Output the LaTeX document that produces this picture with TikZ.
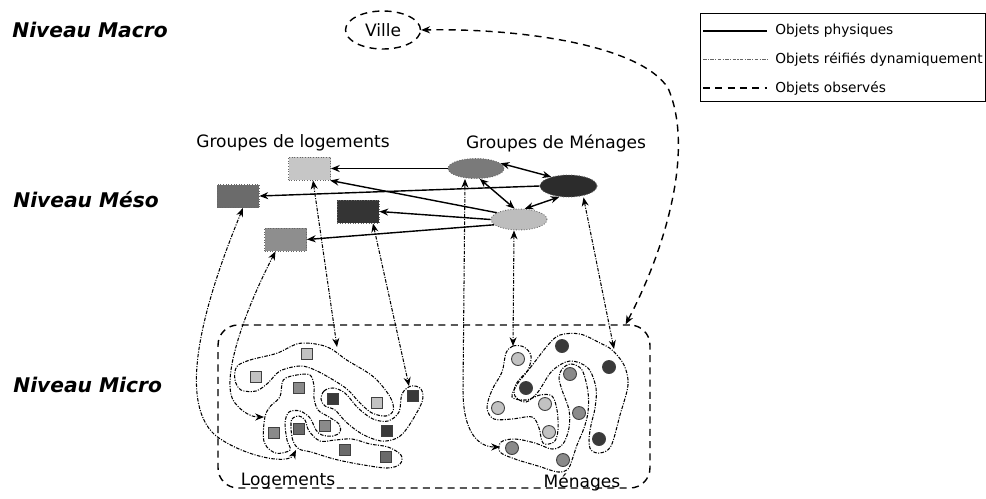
\documentclass[tikz,border=0pt]{standalone}
\usepackage{fontspec}
\setmainfont{DejaVu Sans}
\usetikzlibrary{shapes.geometric,arrows.meta}
\definecolor{rL}{HTML}{C6C6C6}
\definecolor{rD}{HTML}{6B6B6B}
\definecolor{rB}{HTML}{343434}
\definecolor{rM}{HTML}{8E8E8E}
\definecolor{eA}{HTML}{7A7A7A}
\definecolor{eB}{HTML}{2C2C2C}
\definecolor{eC}{HTML}{BDBDBD}
\definecolor{cL}{HTML}{C2C2C2}
\definecolor{cM}{HTML}{8A8A8A}
\definecolor{cMD}{HTML}{6A6A6A}
\definecolor{cD}{HTML}{3A3A3A}
\begin{document}
\begin{tikzpicture}[x=0.02cm,y=-0.02cm,
  tip/.tip={Stealth[length=5pt,width=4pt]},
  lvl/.style={font=\fontsize{11.5}{13}\selectfont\bfseries\itshape, anchor=west, inner sep=0},
  lab/.style={font=\fontsize{9.7}{11}\selectfont, inner sep=0},
  leg/.style={font=\fontsize{7.8}{9}\selectfont, anchor=west, inner sep=0},
  grect/.style={draw=black!60, densely dotted, line width=0.5pt, minimum width=0.84cm, minimum height=0.46cm, inner sep=0},
  gell/.style={ellipse, draw=black!60, densely dotted, line width=0.5pt, minimum width=1.12cm, minimum height=0.4cm, inner sep=0},
  phys/.style={line width=0.8pt, -tip},
  physboth/.style={line width=0.8pt, tip-tip},
  reif/.style={line width=0.6pt, dash pattern=on 2pt off 0.8pt on 0.6pt off 0.8pt},
  reifarr/.style={reif, tip-tip},
  obs/.style={line width=0.8pt, dash pattern=on 4pt off 3pt},
  sq/.style={draw=black!75, line width=0.5pt, minimum size=0.22cm, inner sep=0},
  ci/.style={circle, draw=black!75, line width=0.5pt, minimum size=0.26cm, inner sep=0},
  outline/.style={reif, smooth cycle, tension=0.55},
]
\useasboundingbox (0,0) rectangle (986,498);
\fill[white] (0,0) rectangle (986,498);

% level labels
\node[lvl] (nmacro) at (12,30) {Niveau Macro};
\node[lvl] (nmeso) at (13,200) {Niveau Méso};
\node[lvl] (nmicro) at (13,385) {Niveau Micro};

% legend
\node[draw, line width=0.8pt, minimum width=5.7cm, minimum height=1.76cm, anchor=north west, inner sep=0] (legend) at (700,13) {};
\coordinate (la1) at (703,31); \coordinate (lb1) at (767,31);
\coordinate (la2) at (703,59); \coordinate (lb2) at (767,59);
\coordinate (la3) at (703,88); \coordinate (lb3) at (767,88);
\draw[line width=0.8pt] (la1) -- (lb1);
\draw[reif, black!60, line width=0.4pt] (la2) -- (lb2);
\draw[obs] (la3) -- (lb3);
\node[leg] (lt1) at (775,31) {Objets physiques};
\node[leg] (lt2) at (775,59) {Objets réifiés dynamiquement};
\node[leg] (lt3) at (775,88) {Objets observés};

% macro
\node[ellipse, draw, obs, minimum width=1.5cm, minimum height=0.76cm, inner sep=0, lab] (ville) at (383,30) {Ville};

% meso labels
\node[lab] (gl) at (293,143) {Groupes de logements};
\node[lab] (gm) at (556,143) {Groupes de Ménages};

% meso rects
\node[grect, fill=rL] (rl) at (309.5,168.5) {};
\node[grect, fill=rD] (rd) at (238,196) {};
\node[grect, fill=rB] (rb) at (358,211.5) {};
\node[grect, fill=rM] (rm) at (285.5,239.5) {};
% meso ellipses
\node[gell, fill=eA] (ea) at (476,168.5) {};
\node[gell, fill=eB, minimum width=1.14cm, minimum height=0.44cm] (eb) at (568.5,186) {};
\node[gell, fill=eC, minimum height=0.42cm] (ec) at (519,219.5) {};

% physical arrows
\draw[phys] (ea.west) -- (rl.east);
\draw[phys] (eb.west) -- (rd.east);
\draw[phys] (ec.163) -- (rl.-30);
\draw[phys] (ec.west) -- (rb.east);
\draw[phys] (ec.192) -- (rm.east);
\draw[physboth] (ea.12) -- (eb.152);
\draw[physboth] (ea.-70) -- (ec.112);
\draw[physboth] (eb.-130) -- (ec.62);

% micro box
\node[draw, obs, rounded corners=0.4cm, minimum width=8.64cm, minimum height=3.26cm, inner sep=0] (micro) at (434,406.5) {};
\coordinate (vs) at ([xshift=-0.5cm]micro.north east);
\draw[obs, tip-tip] (vs) .. controls (665,250) and (695,150) .. (668,88) .. controls (640,45) and (520,28) .. (ville.east);

\node[lab] (logt) at (288,481) {Logements};
\node[lab] (ment) at (582,482) {Ménages};

% logement groups outlines
\draw[outline] plot coordinates {(236.7,366.7) (250,360) (276.7,353.3) (300,343.3) (326.7,346.7) (346.7,360) (373.3,376.7) (390,396.7) (393.3,410) (386,416) (372,413) (360,403) (348,390) (335,381) (315,370) (300,366) (280,371) (268,383) (256,391) (241,390) (235,380)};
\draw[outline] plot coordinates {(321,399) (324,391) (333,388) (345,393) (358,408) (373,419) (388,421) (399,412) (402,394) (411,386) (421,389) (422,402) (408,427) (397,438) (381,441) (362,434) (346,422) (335,410) (325,406)};
\draw[outline] plot coordinates {(265,416.7) (270,406.7) (280,396.7) (283.3,380) (296.7,375) (310,375) (314,386) (314,398) (318,410) (329,417) (339,424) (340,432) (333,436) (322,435) (316,430) (310,418) (300,411) (289,412) (285,423) (287,440) (290,450) (276.7,453.3) (266.7,446.7) (263.3,436.7)};
\draw[outline] plot coordinates {(291,428) (292,419) (299,416) (305,420) (309,431) (320,441) (335,440) (352,439) (370,444) (388,447) (401,455) (400,464) (387,468) (358,464) (334,459) (311,452) (299,449) (293,441)};

% logement squares
\node[sq, fill=cL] (s1) at (307,354) {};
\node[sq, fill=cL] (s2) at (256,377) {};
\node[sq, fill=cL] (s3) at (377,403) {};
\node[sq, fill=cM] (s4) at (299,388) {};
\node[sq, fill=cM] (s5) at (274,433) {};
\node[sq, fill=cM] (s6) at (325,426) {};
\node[sq, fill=cMD] (s7) at (299,429) {};
\node[sq, fill=cMD] (s8) at (345,450) {};
\node[sq, fill=cMD] (s9) at (386,457) {};
\node[sq, fill=cD] (s10) at (333,399) {};
\node[sq, fill=cD] (s11) at (413,396) {};
\node[sq, fill=cD] (s12) at (387,431) {};

% menage group outlines
\draw[outline] plot coordinates {(516,384) (530,368) (548,345) (560,335) (580,334) (600,343) (612,350) (624,365) (628,385) (620,415) (611,446) (600,453) (591,450) (589,440) (591,425) (595,408) (596,388) (588,368) (570,361) (552,371) (538,392) (526,402) (515,396)};
\draw[outline] plot coordinates {(506,353) (513,346) (524,347) (531,356) (528,370) (518,383) (512,397) (526,400) (540,395) (552,396) (557,410) (558,430) (554,442) (543,443) (539,428) (532,417) (512,419) (494,419) (487,408) (492,390) (502,372)};
\draw[outline] plot coordinates {(562,369) (571,364) (582,370) (588,392) (588,412) (584,428) (577,445) (572,460) (568,469) (558,472) (538,466) (515,459) (500,452) (501,442) (515,439) (535,443) (552,449) (563,444) (569,428) (569,410) (562,390) (559,378)};

% menage circles
\node[ci, fill=cD] (c1) at (562,346) {};
\node[ci, fill=cD] (c2) at (609,367) {};
\node[ci, fill=cD] (c3) at (526,388) {};
\node[ci, fill=cD] (c4) at (599,439) {};
\node[ci, fill=cL] (c5) at (518,359) {};
\node[ci, fill=cL] (c6) at (498,408) {};
\node[ci, fill=cL] (c7) at (545,404) {};
\node[ci, fill=cL] (c8) at (549,432) {};
\node[ci, fill=cM] (c9) at (570,374) {};
\node[ci, fill=cM] (c10) at (579,413) {};
\node[ci, fill=cM] (c11) at (563,460) {};
\node[ci, fill=cM] (c12) at (512,448) {};

% meso <-> micro connectors
\coordinate (llt) at (337,347);
\coordinate (ldt) at (409,386);
\coordinate (lmdt) at (296,450);
\coordinate (lmt) at (264,417);
\coordinate (mmt) at (500,447);
\coordinate (mlt) at (513,346);
\coordinate (mdt) at (614,349);
\draw[reifarr] ([xshift=0.07cm]rl.south) -- (llt);
\draw[reifarr] ([xshift=0.3cm]rb.south) -- (ldt);
\draw[reifarr] ([xshift=0.1cm]rd.south) .. controls (205,300) and (176,400) .. (215,435) .. controls (240,455) and (288,466) .. (lmdt);
\draw[reifarr] ([xshift=-0.2cm]rm.south) .. controls (240,320) and (220,385) .. (235,403) .. controls (243,413) and (252,417) .. (lmt);
\draw[reifarr] ([xshift=-0.22cm]ea.south) -- (463,390) .. controls (463,432) and (478,447) .. (mmt);
\draw[reifarr] ([xshift=-0.1cm]ec.south) -- (mlt);
\draw[reifarr] ([xshift=0.3cm]eb.south) -- (mdt);
\end{tikzpicture}
\end{document}
